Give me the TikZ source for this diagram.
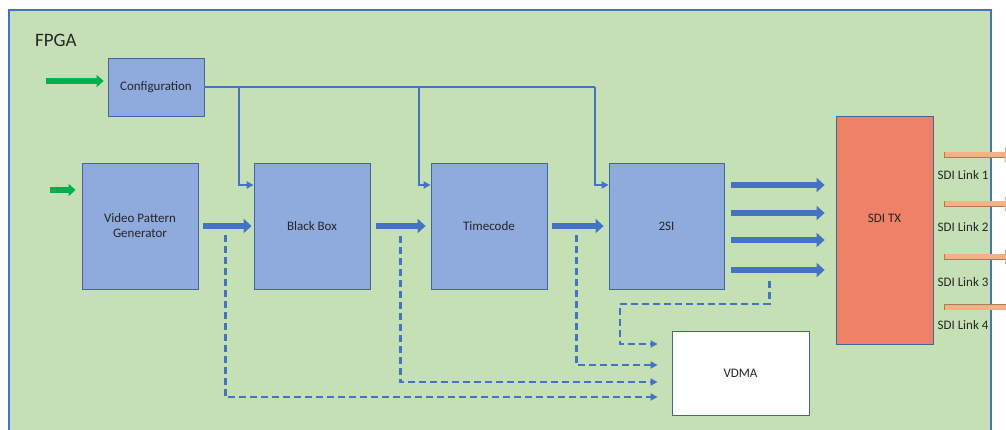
\documentclass[tikz,border=0pt]{standalone}
\usepackage{fontspec}
\setmainfont{Carlito}
\usetikzlibrary{arrows.meta,calc}
\definecolor{bggreen}{HTML}{C5E0B4}
\definecolor{frameblue}{HTML}{4472C4}
\definecolor{boxblue}{HTML}{8FAADC}
\definecolor{boxedge}{HTML}{41659F}
\definecolor{arrowblue}{HTML}{4472C4}
\definecolor{sdired}{HTML}{EE8166}
\definecolor{linkorange}{HTML}{F4B183}
\definecolor{arrowgreen}{HTML}{00B050}
\definecolor{txt}{HTML}{262626}
\tikzset{
  blk/.style={draw=boxedge,line width=0.8pt,fill=boxblue,text=txt,align=center,
    font=\fontsize{13}{15}\selectfont,inner sep=0pt},
  bigarrow/.style={draw=arrowblue,line width=6.5pt,-{Triangle[width=14pt,length=8pt]}},
  greenarrow/.style={draw=arrowgreen,line width=5.5pt,-{Triangle[width=12pt,length=7pt]}},
  linkarrow/.style={draw=linkorange,line width=5pt,-{Triangle[width=12pt,length=8pt]}},
  cfgline/.style={draw=arrowblue,line width=2.2pt},
  cfgarrow/.style={cfgline,-{Triangle[width=7pt,length=7pt]}},
  dashline/.style={draw=arrowblue,line width=2.2pt,dash pattern=on 7pt off 4pt,
    -{Triangle[width=7pt,length=7pt]}},
  lbl/.style={text=txt,font=\fontsize{13}{15}\selectfont,inner sep=0pt},
}
\begin{document}
\begin{tikzpicture}[x=1pt,y=-1pt]
\useasboundingbox (0,0) rectangle (1006,430);
% FPGA frame
\path[fill=white] (0,0) rectangle (1006,430);
\draw[fill=bggreen,draw=frameblue,line width=1.5pt] (9,10) rectangle (991,445);
\node[lbl,font=\fontsize{19}{21}\selectfont,anchor=west] (fpga) at (35,40) {FPGA};

% blocks
\node[blk,minimum width=96pt,minimum height=58pt] (cfg) at (156,87) {Configuration};
\node[blk,minimum width=116pt,minimum height=126pt] (vpg) at (140,226) {Video Pattern\\Generator};
\node[blk,minimum width=116pt,minimum height=126pt] (bb) at (312,226) {Black Box};
\node[blk,minimum width=116pt,minimum height=126pt] (tc) at (489,226) {Timecode};
\node[blk,minimum width=115pt,minimum height=126pt] (s2si) at (666.5,226) {2SI};
\node[draw=boxedge,line width=0.8pt,fill=sdired,minimum width=97pt,minimum height=228pt,inner sep=0pt] (sdi) at (884.5,230) {};
\node[lbl] (sdilbl) at ([yshift=12pt]sdi.center) {SDI TX};
\node[blk,fill=white,minimum width=137pt,minimum height=84pt] (vdma) at (740.5,373) {VDMA};

% input arrows (green)
\coordinate (gin1) at (46,81);
\coordinate (gin2) at (50,190);
\draw[greenarrow] (gin1) -- ([xshift=-4pt]cfg.west |- gin1);
\draw[greenarrow,line width=6.5pt] (gin2) -- ([xshift=-6pt]vpg.west |- gin2);

% main data path
\draw[bigarrow] ([xshift=5pt]vpg.east) -- ([xshift=-2pt]bb.west);
\draw[bigarrow] ([xshift=6pt]bb.east) -- ([xshift=-5pt]tc.west);
\draw[bigarrow] ([xshift=5pt]tc.east) -- ([xshift=-5pt]s2si.west);
\foreach \yy in {185,213,240,270}{
  \draw[bigarrow] ([xshift=7pt]s2si.east |- 0,\yy) -- ([xshift=-11pt]sdi.west |- 0,\yy);
}

% configuration bus
\coordinate (j1) at (239,87);
\coordinate (j2) at (419,87);
\coordinate (j3) at (595,87);
\draw[cfgline] (cfg.east) -- (j3);
\draw[cfgarrow] (j1) |- (bb.west |- 0,185);
\draw[cfgarrow] (j2) |- (tc.west |- 0,185);
\draw[cfgarrow] (j3) |- (s2si.west |- 0,185);

% SDI links
\foreach \yy/\ly/\n/\ex in {155/175/1/1014,204/227/2/1014,257/282/3/1014,307/325/4/1022}{
  \draw[draw=linkorange!70!black,line width=6.6pt,-{Triangle[width=13.6pt,length=9pt]}] ([xshift=11pt]sdi.east |- 0,\yy) -- (\ex,\yy);
  \draw[linkarrow] ([xshift=11.8pt]sdi.east |- 0,\yy) -- (\ex-1,\yy);
  \node[lbl,anchor=west] (link\n) at ([xshift=4pt]sdi.east |- 0,\ly) {SDI Link \n};
}

% monitoring taps to VDMA (dashed)
\draw[dashline,shorten >=14pt] ([xshift=27pt,yshift=-9pt]vpg.east) |- (vdma.west |- 0,397);
\draw[dashline,shorten >=14pt] ([xshift=30pt,yshift=-10pt]bb.east) |- (vdma.west |- 0,382);
\draw[dashline,shorten >=14pt] ([xshift=29pt,yshift=-9pt]tc.east) |- (vdma.west |- 0,365);
\draw[dashline,shorten >=14pt] ([xshift=45pt]s2si.east |- 0,281) |- (620,304) |- (vdma.west |- 0,344);
\end{tikzpicture}
\end{document}
